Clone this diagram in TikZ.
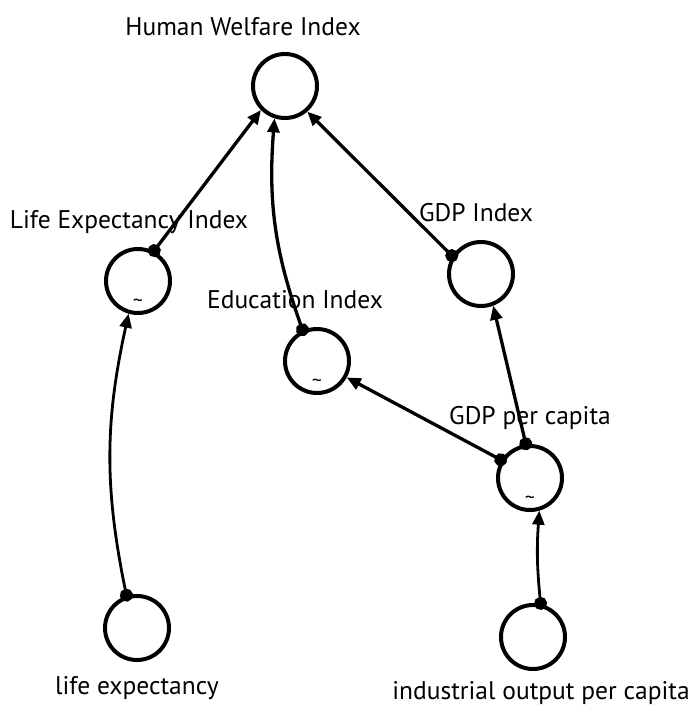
\documentclass[tikz,border=0pt]{standalone}
\usepackage{fontspec}
\setmainfont{PT Sans}
\usetikzlibrary{arrows.meta}
\begin{document}
\begin{tikzpicture}[x=1pt,y=-1pt,
  var/.style={circle,draw,line width=4pt,minimum size=64pt,inner sep=0pt},
  lbl/.style={font=\fontsize{25.5}{27}\selectfont,inner sep=0pt},
  tl/.style={font=\fontsize{20}{20}\selectfont,inner sep=0pt},
  link/.style={line width=3.3pt,shorten <=-6pt,{Circle[length=13pt]}-{Triangle[length=14pt,width=12pt]}}]
\useasboundingbox (0,0) rectangle (694,714);
\node[var] (hwi) at (285,86) {};
\node[var] (lei) at (138,281) {};
\node[var] (ei) at (317,361) {};
\node[var] (gdpi) at (481,274) {};
\node[var] (gdppc) at (530,478) {};
\node[var] (le) at (137,628) {};
\node[var] (iopc) at (533,637) {};
\node[tl] (t1) at (138,303) {\textasciitilde};
\node[tl] (t2) at (317,383) {\textasciitilde};
\node[tl] (t3) at (530,500) {\textasciitilde};
\node[lbl] (lhwi) at (243,27) {Human Welfare Index};
\node[lbl] (llei) at (129,222) {Life Expectancy Index};
\node[lbl] (lei2) at (295,300) {Education Index};
\node[lbl] (lgdpi) at (476,213) {GDP Index};
\node[lbl] (lgdppc) at (530,418) {GDP per capita};
\node[lbl] (lle) at (137,688) {life expectancy};
\node[lbl] (liopc) at (541,693) {industrial output per capita};
\draw[link] (lei.62) -- (hwi.225);
\draw[link] (ei.115) to[bend left=12] (hwi.252);
\draw[link] (gdpi.148) -- (hwi.311);
\draw[link] (gdppc.97) -- (gdpi.291);
\draw[link] (gdppc.148) -- (ei.331);
\draw[link,line width=2.8pt] (le.108) to[bend left=12] (lei.254);
\draw[link,line width=2.8pt] (iopc.77) to[bend left=5] (gdppc.286);
\end{tikzpicture}
\end{document}
